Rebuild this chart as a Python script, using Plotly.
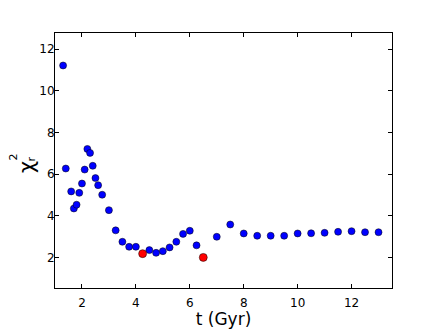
import plotly.graph_objects as go

# chi^2_r versus age; red points are the two best fits
t_blue = [1.3, 1.4, 1.6, 1.7, 1.8, 1.9, 2.0, 2.1, 2.2, 2.3, 2.4, 2.5, 2.6, 2.75,
          3.0, 3.25, 3.5, 3.75, 4.0, 4.5, 4.75, 5.0, 5.25, 5.5, 5.75, 6.0, 6.25,
          7.0, 7.5, 8.0, 8.5, 9.0, 9.5, 10.0, 10.5, 11.0, 11.5, 12.0, 12.5, 13.0]
chi_blue = [11.22, 6.27, 5.17, 4.35, 4.53, 5.10, 5.55, 6.22, 7.21, 7.02, 6.40, 5.81, 5.47, 5.01,
            4.27, 3.30, 2.75, 2.51, 2.51, 2.35, 2.22, 2.30, 2.48, 2.75, 3.13, 3.28, 2.58,
            2.99, 3.58, 3.15, 3.04, 3.04, 3.04, 3.15, 3.16, 3.18, 3.23, 3.26, 3.21, 3.21]
t_red = [4.25, 6.5]
chi_red = [2.18, 2.0]

x_ticks = [2, 4, 6, 8, 10, 12]
y_ticks = [2, 4, 6, 8, 10, 12]

fig = go.Figure()
fig.add_trace(go.Scatter(x=t_blue, y=chi_blue, mode="markers",
                         marker=dict(color="#0000ff", size=7, line=dict(color="black", width=0.5))))
fig.add_trace(go.Scatter(x=t_red, y=chi_red, mode="markers",
                         marker=dict(color="#ff0000", size=8, line=dict(color="black", width=0.5))))

axis = dict(showgrid=False, zeroline=False, showline=True, linecolor="black", linewidth=1,
            mirror="ticks", ticks="inside", ticklen=4, tickcolor="black", tickwidth=1,
            automargin=False,
            tickfont=dict(family="DejaVu Sans", size=12, color="black"))

# page body has an 8px margin, so the figure is 8px smaller and the margins shrink with it
fig.update_layout(
    width=428, height=321,
    margin=dict(l=46.5, r=43.7, t=24.7, b=41.3),
    paper_bgcolor="white", plot_bgcolor="white",
    showlegend=False,
    font=dict(family="DejaVu Sans", color="black"),
    xaxis=dict(range=[1.0, 13.5], tickvals=x_ticks, ticktext=[str(v) for v in x_ticks],
               ticklabelstandoff=4,
               title=dict(text="t (Gyr)", font=dict(size=17), standoff=12), **axis),
    yaxis=dict(range=[0.53, 12.78], tickvals=y_ticks, ticktext=[str(v) for v in y_ticks],
               ticklabelstandoff=-3, **axis),
)

# stacked sub/superscript label built from rotated pieces (pixel offsets from axis at x=54.5, mid y=160)
lab = [("χ", 21, -28.5, -7), ("2", 11, -42, 3), ("r", 11, -24, 1)]
for txt, sz, dx, dy in lab:
    fig.add_annotation(text=txt, xref="paper", yref="paper", x=0, y=0.5,
                       xanchor="center", yanchor="middle",
                       xshift=dx, yshift=dy, showarrow=False, textangle=-90,
                       font=dict(family="DejaVu Sans", size=sz, color="black"))

fig.write_html("out.html")
